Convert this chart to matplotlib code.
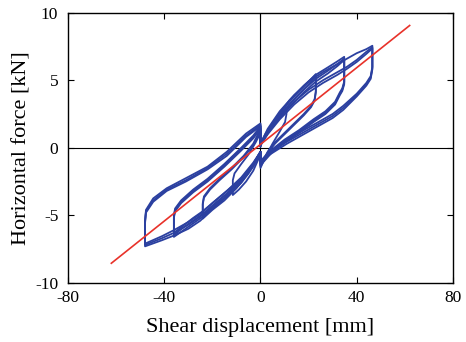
import matplotlib
matplotlib.use("Agg")
import matplotlib.pyplot as plt

# Hysteresis loops (shear displacement [mm], horizontal force [kN])
a1_x = [0, 1, 3, 6, 9, 10.8, 10.8, 10.2, 8, 5, 2.5, 0, 0, -1, -3, -6, -9, -11.5, -11.5, -10.8, -8, -5, -2, 0, 0]
a1_y = [0.1, 0.6, 1.3, 2.0, 2.6, 3.0, 2.5, 1.9, 1.2, 0.3, -0.5, -1.5, -0.3, -0.9, -1.7, -2.5, -3.1, -3.5, -2.4, -1.9, -1.2, -0.5, 0.4, 1.1, 0.1]

a2_x = [0, 2, 5, 10, 15, 20, 23, 23, 22.5, 21, 18, 14, 10, 6, 3, 0, 0, -2, -5, -10, -15, -20, -24, -24, -23.5, -21, -17, -12, -7, -3, 0, 0]
a2_y = [0.2, 0.9, 1.8, 3.0, 4.0, 4.9, 5.45, 4.1, 3.5, 3.0, 2.4, 1.7, 1.0, 0.3, -0.4, -1.4, -0.3, -1.0, -1.9, -3.0, -3.9, -4.6, -5.25, -4.1, -3.6, -3.0, -2.3, -1.5, -0.6, 0.3, 1.4, 0.2]
a2b_x = [0, 2, 5, 10, 15, 20, 23, 23, 22.5, 21, 18, 14, 10, 6, 3, 0, 0, -2, -5, -10, -15, -20, -24, -24, -23.5, -21, -17, -12, -7, -3, 0, 0]
a2b_y = [0.2, 0.8, 1.6, 2.8, 3.8, 4.7, 5.3, 4.2, 3.6, 3.1, 2.5, 1.8, 1.1, 0.4, -0.3, -1.3, -0.3, -0.9, -1.8, -2.8, -3.7, -4.4, -5.1, -4.2, -3.7, -3.1, -2.4, -1.6, -0.7, 0.2, 1.3, 0.2]

a3_x = [0, 2, 6, 12, 18, 23, 28, 32, 34.8, 34.8, 34, 33, 31, 27, 22, 16, 10, 5, 0, 0, -3, -8, -14, -20, -24, -28, -32, -36, -36, -35.5, -33, -28, -22, -15, -8, -3, 0, 0]
a3_y = [0.3, 1.0, 2.1, 3.5, 4.6, 5.4, 5.95, 6.4, 6.73, 4.7, 4.2, 3.9, 3.2, 2.5, 1.9, 1.1, 0.4, -0.3, -1.3, -0.3, -1.3, -2.5, -3.6, -4.5, -5.1, -5.6, -6.1, -6.6, -5.0, -4.5, -3.9, -3.1, -2.3, -1.2, 0.0, 0.9, 1.6, 0.3]
a3b_x = [0, 2, 6, 12, 18, 23, 28, 32, 34.8, 34.8, 34, 33, 31, 27, 22, 16, 10, 5, 0, 0, -3, -8, -14, -20, -24, -28, -32, -36, -36, -35.5, -33, -28, -22, -15, -8, -3, 0, 0]
a3b_y = [0.2, 0.9, 1.9, 3.2, 4.3, 5.1, 5.7, 6.2, 6.6, 4.8, 4.3, 4.0, 3.3, 2.6, 2.0, 1.2, 0.5, -0.2, -1.2, -0.3, -1.2, -2.3, -3.4, -4.3, -4.9, -5.4, -5.9, -6.45, -5.1, -4.6, -4.0, -3.2, -2.4, -1.3, -0.1, 0.8, 1.5, 0.3]
a3c_x = [0, 2, 6, 12, 18, 23, 28, 32, 34.8, 34.8, 34, 33, 31, 27, 22, 16, 10, 5, 0, 0, -3, -8, -14, -20, -24, -28, -32, -36, -36, -35.5, -33, -28, -22, -15, -8, -3, 0, 0]
a3c_y = [0.2, 0.8, 1.8, 3.0, 4.1, 4.9, 5.5, 6.05, 6.5, 4.9, 4.4, 4.1, 3.4, 2.7, 2.1, 1.3, 0.6, -0.1, -1.1, -0.3, -1.1, -2.2, -3.2, -4.1, -4.7, -5.2, -5.75, -6.3, -5.2, -4.7, -4.1, -3.3, -2.5, -1.4, -0.2, 0.7, 1.4, 0.3]

a4_x = [0, 3, 8, 14, 20, 26, 32, 36, 40, 44, 46.5, 46.5, 45.8, 44, 40, 34.4, 30, 25, 20, 11, 3, 0, 0, -3, -8, -14, -20, -25, -30, -36, -41, -48, -48, -47.6, -44.6, -39, -31, -22, -14, -6, 0, 0]
a4_y = [0.3, 1.4, 2.7, 3.9, 4.9, 5.6, 6.2, 6.6, 7.0, 7.3, 7.55, 5.8, 5.1, 4.6, 3.8, 2.8, 2.2, 1.7, 1.2, 0.3, -0.6, -1.2, -0.3, -1.4, -2.6, -3.6, -4.5, -5.4, -6.0, -6.5, -6.85, -7.3, -5.4, -4.6, -3.75, -3.0, -2.25, -1.4, -0.3, 1.05, 1.8, 0.3]
a4b_x = [0, 3, 8, 14, 20, 26, 32, 36, 40, 44, 46.5, 46.5, 45.8, 44, 40, 34.4, 30, 25, 20, 11, 3, 0, 0, -3, -8, -14, -20, -25, -30, -36, -41, -48, -48, -47.6, -44.6, -39, -31, -22, -14, -6, 0, 0]
a4b_y = [0.2, 1.1, 2.3, 3.4, 4.3, 5.0, 5.6, 6.0, 6.5, 7.1, 7.45, 5.9, 5.2, 4.7, 3.9, 2.95, 2.35, 1.85, 1.35, 0.45, -0.5, -1.1, -0.3, -1.3, -2.4, -3.4, -4.3, -5.1, -5.7, -6.3, -6.7, -7.2, -5.5, -4.7, -3.9, -3.1, -2.4, -1.5, -0.45, 0.9, 1.7, 0.3]
a4c_x = [0, 3, 8, 14, 20, 26, 32, 36, 40, 44, 46.5, 46.5, 45.8, 44, 40, 34.4, 30, 25, 20, 11, 3, 0, 0, -3, -8, -14, -20, -25, -30, -36, -41, -48, -48, -47.6, -44.6, -39, -31, -22, -14, -6, 0, 0]
a4c_y = [0.2, 1.0, 2.1, 3.2, 4.1, 4.8, 5.4, 5.85, 6.35, 6.95, 7.35, 6.0, 5.3, 4.8, 4.0, 3.1, 2.5, 2.0, 1.5, 0.6, -0.4, -1.0, -0.3, -1.2, -2.3, -3.2, -4.1, -4.9, -5.5, -6.1, -6.55, -7.1, -5.6, -4.8, -4.0, -3.2, -2.5, -1.6, -0.6, 0.8, 1.6, 0.3]

loops = [(a1_x, a1_y), (a2_x, a2_y), (a2b_x, a2b_y),
         (a3_x, a3_y), (a3b_x, a3b_y), (a3c_x, a3c_y),
         (a4_x, a4_y), (a4b_x, a4b_y), (a4c_x, a4c_y)]

# Linear fit line
fit_x = [-62, 62]
fit_y = [-8.55, 9.05]

x_ticks = [-80, -40, 0, 40, 80]
y_ticks = [-10, -5, 0, 5, 10]

plt.rcParams['font.family'] = ['Liberation Serif', 'DejaVu Serif']

fig = plt.figure(figsize=(4.66, 3.42), dpi=100)
ax = fig.add_axes([0.146, 0.173, 0.826, 0.790])

ax.axhline(0, color='black', lw=0.8, zorder=1)
ax.axvline(0, color='black', lw=0.8, zorder=1)

blue = '#2B40A0'
for lx, ly in loops:
    ax.plot(lx, ly, color=blue, lw=1.3, zorder=2, solid_joinstyle='round')

ax.plot(fit_x, fit_y, color='#E8322A', lw=1.2, zorder=3)

ax.set_xlim(-80, 80)
ax.set_ylim(-10, 10)
ax.set_xticks(x_ticks)
ax.set_yticks(y_ticks)
ax.set_xticklabels([str(v) for v in x_ticks])
ax.set_yticklabels([str(v) for v in y_ticks])
ax.tick_params(direction='in', length=4, width=0.8, top=True, right=True,
               labelsize=12.5)
ax.tick_params(axis='x', pad=5)
ax.tick_params(axis='y', pad=7)
for s in ax.spines.values():
    s.set_linewidth(1.0)

ax.set_xlabel('Shear displacement [mm]', fontsize=16, labelpad=9)
ax.set_ylabel('Horizontal force [kN]', fontsize=16, labelpad=3)

fig.savefig('out.png', dpi=100)
